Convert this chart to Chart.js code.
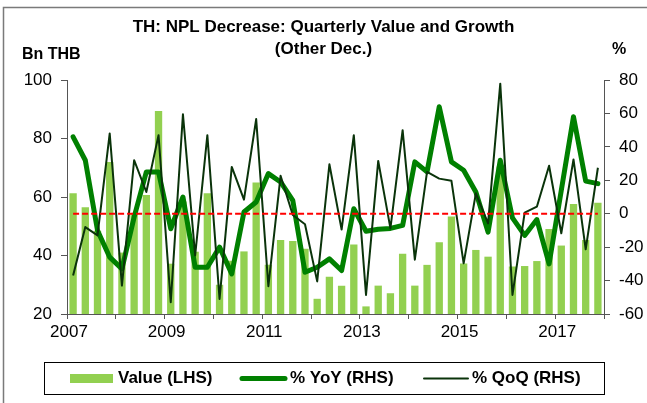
<!DOCTYPE html>
<html><head><meta charset="utf-8">
<script src="https://cdn.jsdelivr.net/npm/chart.js@4/dist/chart.umd.min.js"></script>
<style>html,body{margin:0;padding:0;background:#fff;}canvas{display:block;}</style>
</head><body>
<canvas id="c" width="647" height="403"></canvas>
<script>
const quarters = ['2007Q1','2007Q2','2007Q3','2007Q4','2008Q1','2008Q2','2008Q3','2008Q4',
  '2009Q1','2009Q2','2009Q3','2009Q4','2010Q1','2010Q2','2010Q3','2010Q4',
  '2011Q1','2011Q2','2011Q3','2011Q4','2012Q1','2012Q2','2012Q3','2012Q4',
  '2013Q1','2013Q2','2013Q3','2013Q4','2014Q1','2014Q2','2014Q3','2014Q4',
  '2015Q1','2015Q2','2015Q3','2015Q4','2016Q1','2016Q2','2016Q3','2016Q4',
  '2017Q1','2017Q2','2017Q3','2017Q4'];
const valueLHS = [61.3, 56.5, 48.5, 72.0, 41.0, 54.5, 60.7, 89.4,
  37.2, 58.5, 41.3, 61.3, 30.0, 38.2, 41.4, 65.0,
  36.8, 45.3, 45.0, 42.3, 25.2, 32.7, 29.7, 43.8,
  22.6, 29.7, 27.1, 40.6, 29.7, 36.8, 44.5, 53.3,
  37.3, 41.9, 39.6, 70.4, 36.2, 36.4, 38.1, 49.1,
  43.4, 57.6, 45.3, 58.0];
const yoyRHS = [46, 32, -10, -26, -33, -2, 25, 25,
  -9, 10, -32, -32, -20, -36, 1, 7,
  24, 19, 8, -35, -32, -27, -34, 3,
  -10.5, -9.3, -8.8, -7, 31, 25, 64, 31,
  26, 13, -11, 32, -2.5, -13, -3.5, -30,
  14, 58, 19.5, 18];
const qoqRHS = [-37, -8, -13, 48, -43, 32, 13, 47,
  -53, 59.5, -25, 47, -51, 28, 8.4, 56.6,
  -43.4, 22.7, -0.8, -6.3, -40.5, 29.6, -9.5, 47,
  -48.6, 31.6, -8.8, 50, -27.5, 25, 21, 19.7,
  -29.7, 12.2, -5.8, 77.8, -48.6, 0.6, 4.2, 28.7,
  -11.7, 32.5, -21.3, 27.5];
const zeroRef = [0,0,0,0,0,0,0,0,0,0,0,0,0,0,0,0,0,0,0,0,0,0,
  0,0,0,0,0,0,0,0,0,0,0,0,0,0,0,0,0,0,0,0,0,0];
const yearTickLabels = ['2007','2009','2011','2013','2015','2017'];
const leftTicks = [20, 40, 60, 80, 100];
const rightTicks = [-60, -40, -20, 0, 20, 40, 60, 80];

const FONT = "'Liberation Sans', Arial, sans-serif";
const AXIS = '#555555';
const BAR = '#92D050', YOY = '#008000', QOQ = '#0a330a';

const deco = {
  id: 'deco',
  beforeDraw(chart) {
    const ctx = chart.ctx;
    ctx.save();
    ctx.fillStyle = '#fff';
    ctx.fillRect(0, 0, chart.width, chart.height);
    ctx.strokeStyle = '#7a7a7a';
    ctx.lineWidth = 1.5;
    ctx.beginPath();
    ctx.moveTo(3.5, 403); ctx.lineTo(3.5, 7.5); ctx.lineTo(647, 7.5);
    ctx.stroke();
    ctx.restore();
  },
  afterDraw(chart) {
    const ctx = chart.ctx;
    ctx.save();
    ctx.fillStyle = '#000';
    ctx.textBaseline = 'middle';
    ctx.font = 'bold 17px ' + FONT;
    ctx.textAlign = 'center';
    ctx.fillText('TH: NPL Decrease: Quarterly Value and Growth', 323.5, 27);
    ctx.fillText('(Other Dec.)', 323.5, 49);
    ctx.font = 'bold 16px ' + FONT;
    ctx.textAlign = 'left';
    ctx.fillText('Bn THB', 22, 55);
    ctx.fillText('%', 612, 50);
    // legend
    ctx.strokeStyle = '#000'; ctx.lineWidth = 1;
    ctx.strokeRect(44.5, 362.5, 560, 32);
    const ds = chart.data.datasets;
    const ly = 378.5;
    ctx.fillStyle = BAR; ctx.fillRect(70, ly - 4.5, 43, 9);
    ctx.lineCap = 'round';
    ctx.strokeStyle = YOY; ctx.lineWidth = 5;
    ctx.beginPath(); ctx.moveTo(242, ly); ctx.lineTo(285, ly); ctx.stroke();
    ctx.strokeStyle = QOQ; ctx.lineWidth = 2;
    ctx.beginPath(); ctx.moveTo(424, ly); ctx.lineTo(468, ly); ctx.stroke();
    ctx.fillStyle = '#000';
    ctx.font = 'bold 17px ' + FONT;
    ctx.fillText(ds[0].label, 118, ly);
    ctx.fillText(ds[1].label, 290, ly);
    ctx.fillText(ds[2].label, 472, ly);
    ctx.restore();
  }
};

new Chart(document.getElementById('c'), {
  data: {
    labels: quarters,
    datasets: [
      { type: 'bar', label: 'Value (LHS)', data: valueLHS, backgroundColor: BAR,
        xAxisID: 'x', yAxisID: 'y', barPercentage: 0.6, categoryPercentage: 1.0, order: 4 },
      { type: 'line', label: '% YoY (RHS)', data: yoyRHS, borderColor: YOY, borderWidth: 5,
        pointRadius: 0, fill: false, tension: 0, borderJoinStyle: 'round', borderCapStyle: 'round',
        xAxisID: 'x', yAxisID: 'y1', order: 3 },
      { type: 'line', label: '% QoQ (RHS)', data: qoqRHS, borderColor: QOQ, borderWidth: 2,
        pointRadius: 0, fill: false, tension: 0, borderJoinStyle: 'round',
        xAxisID: 'x', yAxisID: 'y1', order: 2 },
      { type: 'line', label: 'zero', data: zeroRef, borderColor: '#ff0000', borderWidth: 2,
        borderDash: [6, 3], pointRadius: 0, fill: false, xAxisID: 'x', yAxisID: 'y1', order: 1 }
    ]
  },
  options: {
    responsive: false, animation: false, devicePixelRatio: 1,
    layout: { padding: { top: 80, bottom: 59, left: 0, right: 0 } },
    plugins: { legend: { display: false }, title: { display: false }, tooltip: { enabled: false } },
    scales: {
      x: { type: 'category', display: false, offset: true, grid: { display: false } },
      xl: { type: 'linear', position: 'bottom', min: 0, max: 44,
        ticks: { stepSize: 4, autoSkip: false, maxRotation: 0, color: '#000', padding: 3, labelOffset: 2,
          font: { family: FONT, size: 17 },
          callback: v => (v % 8 === 0 ? yearTickLabels[v / 8] : '') },
        grid: { display: true, drawOnChartArea: false, drawTicks: true, tickLength: 5, color: AXIS },
        border: { display: true, color: AXIS, width: 1 },
        afterFit: s => { s.height = 30; } },
      y: { type: 'linear', position: 'left', min: leftTicks[0], max: leftTicks[leftTicks.length - 1],
        afterBuildTicks: s => { s.ticks = leftTicks.map(v => ({ value: v })); },
        ticks: { color: '#000', padding: 9, font: { family: FONT, size: 17 } },
        grid: { display: true, drawOnChartArea: false, drawTicks: true, tickLength: 6, color: AXIS },
        border: { display: true, color: AXIS, width: 1 },
        afterFit: s => { s.width = 67; } },
      y1: { type: 'linear', position: 'right', min: rightTicks[0], max: rightTicks[rightTicks.length - 1],
        afterBuildTicks: s => { s.ticks = rightTicks.map(v => ({ value: v })); },
        ticks: { color: '#000', padding: 9, font: { family: FONT, size: 17 } },
        grid: { display: true, drawOnChartArea: false, drawTicks: true, tickLength: 6, color: AXIS },
        border: { display: true, color: AXIS, width: 1 },
        afterFit: s => { s.width = 43; } }
    }
  },
  plugins: [deco]
});
</script>
</body></html>
